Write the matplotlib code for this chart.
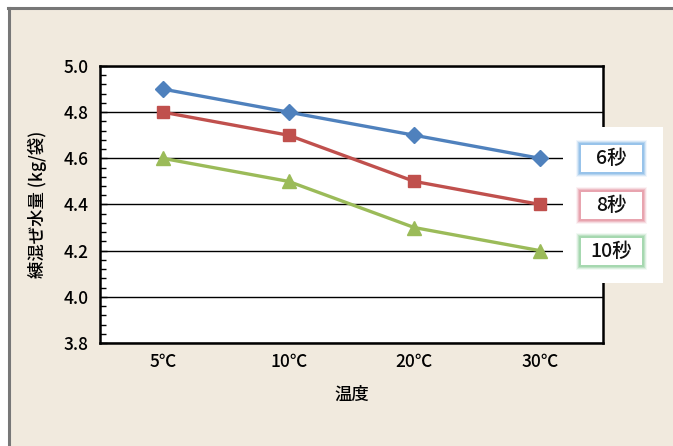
import matplotlib
matplotlib.use("Agg")
import matplotlib.pyplot as plt
from matplotlib.patches import Rectangle
from matplotlib.lines import Line2D
from matplotlib.ticker import MultipleLocator

plt.rcParams['font.family'] = ['Noto Sans CJK JP', 'DejaVu Sans']

categories = ['5℃', '10℃', '20℃', '30℃']
series_names = ['6秒', '8秒', '10秒']
s6 = [4.9, 4.8, 4.7, 4.6]
s8 = [4.8, 4.7, 4.5, 4.4]
s10 = [4.6, 4.5, 4.3, 4.2]
yticks = [3.8, 4.0, 4.2, 4.4, 4.6, 4.8, 5.0]

colors = ['#4F81BD', '#C0504D', '#9BBB59']
glows = ['#8DBDE8', '#E69AA6', '#9CD4A8']
markers = ['D', 's', '^']
msizes = [8.5, 9, 9.5]

W, H = 673, 446
fig = plt.figure(figsize=(W / 100, H / 100), dpi=100, facecolor='white')

def fx(x):
    return x / W

def fy(y):
    return 1 - y / H

# beige background and gray border
fig.patches.append(Rectangle((fx(10), 0), 1 - fx(10), fy(10), transform=fig.transFigure,
                             facecolor='#F1EADE', edgecolor='none', zorder=0))
fig.lines.append(Line2D([fx(9), fx(9)], [0, fy(8)], transform=fig.transFigure,
                        color='#777777', linewidth=2.2, zorder=1))
fig.lines.append(Line2D([fx(8), 1], [fy(8), fy(8)], transform=fig.transFigure,
                        color='#777777', linewidth=2.2, zorder=1))

ax = fig.add_axes([fx(100), fy(343), fx(603) - fx(100), fy(66) - fy(343)])
ax.set_zorder(2)
ax.set_facecolor('white')
x = list(range(len(categories)))
for vals, c, m, ms in zip([s6, s8, s10], colors, markers, msizes):
    ax.plot(x, vals, color=c, linewidth=2.4, marker=m, markersize=ms,
            markerfacecolor=c, markeredgecolor=c, zorder=3, clip_on=False)

ax.set_xlim(-0.5, len(categories) - 0.5)
ax.set_ylim(3.8, 5.0)
ax.set_yticks(yticks)
ax.set_yticklabels([f'{v:.1f}' for v in yticks], fontsize=12.5, fontweight='medium')
ax.yaxis.set_minor_locator(MultipleLocator(0.04))
ax.set_xticks(x)
ax.set_xticklabels(categories, fontsize=12.5, fontweight='medium')
ax.tick_params(axis='x', length=0, pad=7)
ax.tick_params(axis='y', which='major', direction='in', length=5, width=1, pad=8)
ax.tick_params(axis='y', which='minor', direction='in', length=4, width=1)
ax.grid(axis='y', color='black', linewidth=1)
ax.set_axisbelow(True)
for sp in ax.spines.values():
    sp.set_linewidth(1.8)
    sp.set_color('black')
ax.set_xlabel('温度', fontsize=12.5, labelpad=11, fontweight='medium')
ax.set_ylabel('練混ぜ水量 (kg/袋)', fontsize=12.5, labelpad=12, fontweight='medium')

# legend panel
fig.patches.append(Rectangle((fx(563), fy(283)), fx(663) - fx(563), fy(127) - fy(283),
                             transform=fig.transFigure, facecolor='white',
                             edgecolor='none', zorder=5))
box_y = [(144, 173), (191, 220), (237, 266)]
for name, (y0, y1), g in zip(series_names, box_y, glows):
    x0, x1 = 580, 643
    for i, a in enumerate([0.12, 0.25, 0.45, 0.7]):
        pad = 4 - i
        fig.patches.append(Rectangle((fx(x0 - pad), fy(y1 + pad)),
                                     fx(x1 + pad) - fx(x0 - pad), fy(y0 - pad) - fy(y1 + pad),
                                     transform=fig.transFigure, facecolor=g, alpha=a,
                                     edgecolor='none', zorder=6))
    fig.patches.append(Rectangle((fx(x0 + 1), fy(y1 - 1)), fx(x1 - 1) - fx(x0 + 1),
                                 fy(y0 + 1) - fy(y1 - 1), transform=fig.transFigure,
                                 facecolor='white', edgecolor='none', zorder=7))
    fig.text(fx((x0 + x1) / 2), fy((y0 + y1) / 2), name, fontsize=14, ha='center',
             va='center', zorder=8, color='#111111', fontweight='medium')

fig.savefig('out.png', dpi=100, facecolor='white')
